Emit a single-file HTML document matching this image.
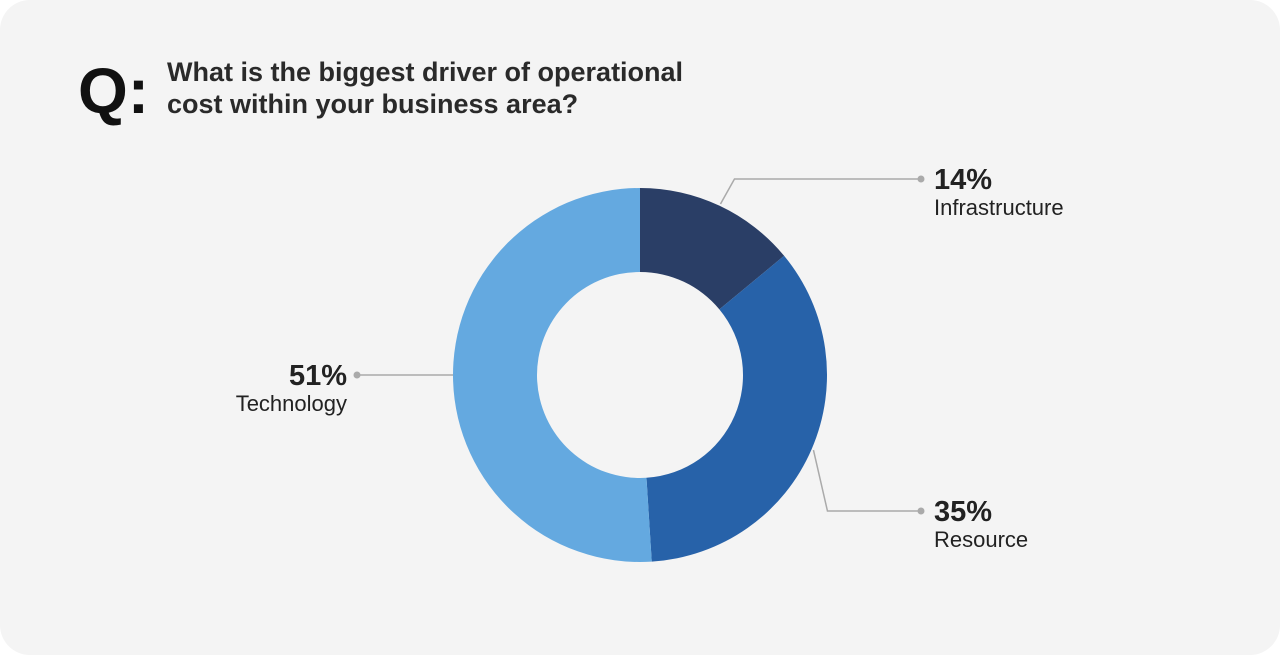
<!DOCTYPE html>
<html><head><meta charset="utf-8"><style>
body{margin:0;background:#fff;width:1280px;height:655px;overflow:hidden;font-family:"Liberation Sans",sans-serif}
#card{position:absolute;left:0;top:0;width:1280px;height:655px;background:#f4f4f4;border-radius:30px}
</style></head><body>
<div id="card">
<svg id="chart" width="1280" height="655">
<text x="78" y="113" font-size="64" font-weight="bold" fill="#111">Q:</text>
<text x="167" y="81" font-size="27" font-weight="bold" fill="#2a2a2a">What is the biggest driver of operational</text>
<text x="167" y="113" font-size="27" font-weight="bold" fill="#2a2a2a">cost within your business area?</text>
<g id="slices"></g>
<g id="labels"></g>
</svg>
</div>
<script>
const categories=["Infrastructure","Resource","Technology"];
const values=[14,35,51];
const colors=["#2a3e66","#2762a9","#64a9e0"];
const cx=640,cy=375,R=187,r=103;
const ns="http://www.w3.org/2000/svg";
const total=values.reduce((a,b)=>a+b,0);
const sg=document.getElementById('slices');
function pt(a,rad){return [cx+rad*Math.sin(a),cy-rad*Math.cos(a)];}
let acc=0;
const mids=[];
values.forEach((v,i)=>{
  const a0=acc/total*2*Math.PI;acc+=v;const a1=acc/total*2*Math.PI;
  mids.push((a0+a1)/2);
  const lg=(a1-a0)>Math.PI?1:0;
  const [x0,y0]=pt(a0,R),[x1,y1]=pt(a1,R),[x2,y2]=pt(a1,r),[x3,y3]=pt(a0,r);
  const p=document.createElementNS(ns,'path');
  p.setAttribute('d',`M${x0},${y0}A${R},${R} 0 ${lg} 1 ${x1},${y1}L${x2},${y2}A${r},${r} 0 ${lg} 0 ${x3},${y3}Z`);
  p.setAttribute('fill',colors[i]);
  
  
  sg.appendChild(p);
});
const lg=document.getElementById('labels');
const labelY=[179,511,375];
mids.forEach((m,i)=>{
  const [ex,ey]=pt(m,R+2);
  const right=Math.sin(m)>=0;
  const dotX=right?921:357;
  const ly=labelY[i];
  let d;
  if(i==2){d=`M${cx-R},${ly}L${dotX},${ly}`;}
  else{const kx=ex+(right?18:-18)*1,ky=ly;d=`M${ex},${ey}L${ex+(right?14:-14)},${ky}L${dotX},${ky}`;}
  const l=document.createElementNS(ns,'path');
  l.setAttribute('d',d);l.setAttribute('stroke','#aaa');l.setAttribute('stroke-width','1.5');l.setAttribute('fill','none');
  
  
  lg.appendChild(l);
  const c=document.createElementNS(ns,'circle');
  c.setAttribute('cx',dotX);c.setAttribute('cy',ly);c.setAttribute('r',3.5);c.setAttribute('fill','#aaa');
  
  
  lg.appendChild(c);
  const tx=right?934:347,anchor=right?'start':'end';
  const t1=document.createElementNS(ns,'text');
  t1.setAttribute('x',tx);t1.setAttribute('y',ly+10);t1.setAttribute('text-anchor',anchor);
  t1.setAttribute('font-size','29');t1.setAttribute('font-weight','bold');t1.setAttribute('fill','#222');
  t1.textContent=values[i]+'%';
  
  
  lg.appendChild(t1);
  const t2=document.createElementNS(ns,'text');
  t2.setAttribute('x',tx);t2.setAttribute('y',ly+36);t2.setAttribute('text-anchor',anchor);
  t2.setAttribute('font-size','22');t2.setAttribute('fill','#222');
  t2.textContent=categories[i];
  
  
  lg.appendChild(t2);
});
</script>
</body></html>
